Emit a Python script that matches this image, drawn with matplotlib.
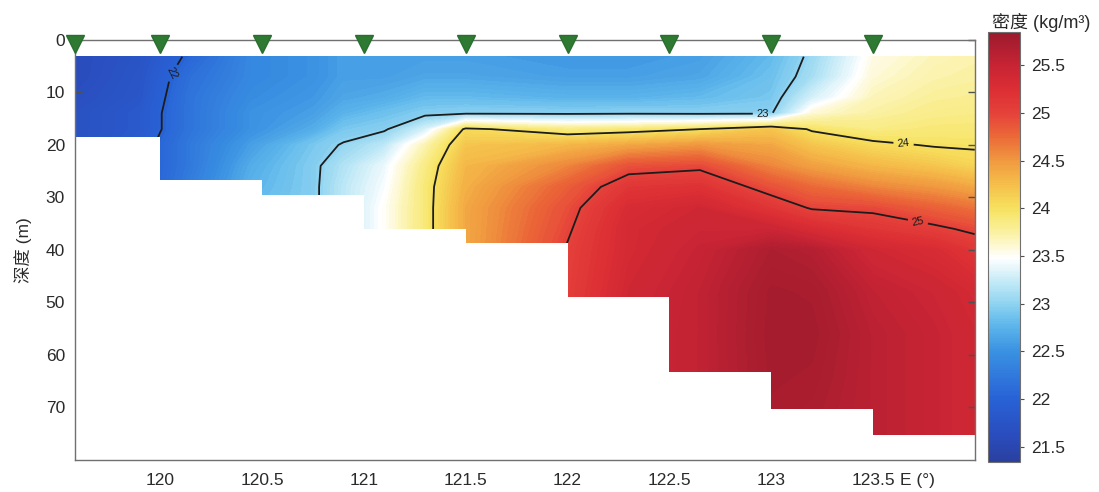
import numpy as np
import matplotlib
matplotlib.use("Agg")
import matplotlib.pyplot as plt
import matplotlib.transforms as mtransforms
from matplotlib.colors import LinearSegmentedColormap, Normalize
from matplotlib.cm import ScalarMappable

plt.rcParams['font.family'] = ['Liberation Sans', 'Noto Sans CJK SC', 'DejaVu Sans']

# --- section data -------------------------------------------------------
# CTD stations along the section (longitude, °E) and the water depth (m)
# reached below each station until the next one
stations = [119.58, 120.0, 120.5, 121.0, 121.5, 122.0, 122.5, 123.0, 123.5]
station_bottom = [18.5, 26.6, 29.6, 36.0, 38.6, 49.0, 63.2, 70.3, 75.3]
section_east_end = 124.0

# grid of the density field (sigma, kg/m^3)
grid_lon = [119.58, 119.9, 120.15, 120.45, 120.75, 120.9, 121.1, 121.3, 121.5,
            122.0, 122.3, 122.65, 123.0, 123.2, 123.5, 123.8, 124.0]
grid_depth = [3.2, 7, 11, 14, 17, 20, 24, 28, 32, 36, 40, 48, 56, 64, 70, 76]
density = [
    [21.60, 21.75, 22.05, 22.40, 22.50, 22.60, 22.60, 22.60, 22.60, 22.55, 22.55, 22.60, 22.80, 23.05, 23.55, 23.68, 23.72],
    [21.60, 21.78, 22.15, 22.40, 22.50, 22.60, 22.60, 22.65, 22.65, 22.60, 22.60, 22.65, 22.85, 23.10, 23.60, 23.72, 23.75],
    [21.65, 21.80, 22.20, 22.45, 22.55, 22.65, 22.70, 22.80, 22.80, 22.75, 22.75, 22.80, 22.90, 23.30, 23.68, 23.78, 23.80],
    [21.70, 21.85, 22.20, 22.50, 22.60, 22.75, 22.85, 22.95, 22.98, 22.97, 22.98, 22.97, 22.98, 23.60, 23.75, 23.83, 23.85],
    [21.70, 21.85, 22.20, 22.50, 22.70, 22.90, 22.97, 23.30, 24.05, 23.85, 23.90, 24.00, 24.20, 23.97, 23.85, 23.90, 23.90],
    [21.70, 21.90, 22.25, 22.60, 22.90, 23.02, 23.20, 23.70, 24.20, 24.30, 24.40, 24.50, 24.40, 24.20, 24.05, 23.98, 23.97],
    [21.70, 21.90, 22.25, 22.70, 22.95, 23.15, 23.40, 23.85, 24.30, 24.60, 24.90, 24.95, 24.60, 24.45, 24.30, 24.20, 24.10],
    [21.70, 21.90, 22.30, 22.75, 22.95, 23.20, 23.45, 23.90, 24.35, 24.82, 25.15, 25.20, 24.90, 24.75, 24.60, 24.50, 24.40],
    [21.70, 21.90, 22.30, 22.80, 22.95, 23.20, 23.50, 23.90, 24.40, 24.92, 25.30, 25.40, 25.15, 24.98, 24.95, 24.80, 24.70],
    [21.70, 21.90, 22.30, 22.80, 22.95, 23.20, 23.50, 23.90, 24.40, 24.97, 25.35, 25.45, 25.45, 25.30, 25.15, 25.05, 24.95],
    [21.70, 21.90, 22.30, 22.80, 22.95, 23.20, 23.50, 23.90, 24.40, 25.02, 25.35, 25.50, 25.70, 25.65, 25.40, 25.30, 25.15],
    [21.70, 21.90, 22.30, 22.80, 22.95, 23.20, 23.50, 23.90, 24.40, 25.05, 25.40, 25.55, 25.77, 25.75, 25.55, 25.45, 25.35],
    [21.70, 21.90, 22.30, 22.80, 22.95, 23.20, 23.50, 23.90, 24.40, 25.10, 25.45, 25.55, 25.78, 25.78, 25.60, 25.50, 25.40],
    [21.70, 21.90, 22.30, 22.80, 22.95, 23.20, 23.50, 23.90, 24.40, 25.10, 25.45, 25.55, 25.77, 25.75, 25.60, 25.50, 25.40],
    [21.70, 21.90, 22.30, 22.80, 22.95, 23.20, 23.50, 23.90, 24.40, 25.10, 25.45, 25.55, 25.75, 25.72, 25.60, 25.50, 25.40],
    [21.70, 21.90, 22.30, 22.80, 22.95, 23.20, 23.50, 23.90, 24.40, 25.10, 25.45, 25.55, 25.75, 25.72, 25.60, 25.50, 25.40],
]
contour_levels = [22, 23, 24, 25]
label_spots = [(120.07, 6.5), (122.96, 13.8), (123.65, 19.8), (123.73, 33.0)]

x_ticks = [120, 120.5, 121, 121.5, 122, 122.5, 123, 123.5]
x_tick_labels = ['120', '120.5', '121', '121.5', '122', '122.5', '123', '123.5']
y_ticks = [0, 10, 20, 30, 40, 50, 60, 70]
cb_ticks = [21.5, 22, 22.5, 23, 23.5, 24, 24.5, 25, 25.5]
cb_tick_labels = ['21.5', '22', '22.5', '23', '23.5', '24', '24.5', '25', '25.5']

vmin, vmax = 21.34, 25.85

# --- colour map: blue - white - yellow - red ------------------------------
cmap_nodes = [
    (21.34, '#2a409f'), (21.6, '#2a4cbc'), (22.0, '#2862d6'), (22.5, '#3a92e2'),
    (22.8, '#62baec'), (23.0, '#8fd4f0'), (23.25, '#c8ecf7'), (23.48, '#ffffff'),
    (23.75, '#fbf1a2'), (24.0, '#f6e25e'), (24.25, '#f5bf4a'), (24.5, '#f09a40'),
    (24.75, '#eb6a38'), (25.0, '#e5423a'), (25.25, '#dc2e34'), (25.5, '#c82434'),
    (25.85, '#9b1a2d'),
]
cmap = LinearSegmentedColormap.from_list(
    'dens', [((v - vmin) / (vmax - vmin), c) for v, c in cmap_nodes])
norm = Normalize(vmin=vmin, vmax=vmax)

# --- figure ---------------------------------------------------------------
fig = plt.figure(figsize=(10.99, 4.92), dpi=100)
ax = fig.add_axes([0.068, 0.065, 0.819, 0.854])
cax = fig.add_axes([0.899, 0.061, 0.029, 0.874])

LON, DEP = np.meshgrid(grid_lon, grid_depth)
Z = np.array(density)

ax.contourf(LON, DEP, Z, levels=np.linspace(vmin, vmax, 150), cmap=cmap,
            norm=norm, extend='both', zorder=1)
cs = ax.contour(LON, DEP, Z, levels=contour_levels, colors='#1c1c1c',
                linewidths=1.3, zorder=3)
ax.clabel(cs, fmt='%d', fontsize=8, inline=True, inline_spacing=4,
          manual=label_spots)

# sea floor below each station (white)
edges = stations + [section_east_end]
floor = station_bottom + [station_bottom[-1]]
ax.fill_between(edges, floor, 90, step='post', color='white', lw=0, zorder=4)

# station markers on the surface
shift = mtransforms.ScaledTranslation(0, -4 / 100, fig.dpi_scale_trans)
ax.plot(stations, [0] * len(stations), linestyle='none', marker='v',
        markersize=13, color='#2e7a32', markeredgecolor='#2a6e2e',
        clip_on=False, zorder=6, transform=ax.transData + shift)

ax.set_xlim(stations[0], section_east_end)
ax.set_ylim(80, 0)
ax.set_xticks(x_ticks)
ax.set_xticklabels(x_tick_labels)
ax.set_yticks(y_ticks)
ax.tick_params(axis='both', direction='in', length=5, width=1,
               color='#505050', labelsize=12.5, labelcolor='#2a2a2a')
ax.tick_params(axis='x', pad=9)
ax.tick_params(axis='y', pad=7, right=True)
for sp in ax.spines.values():
    sp.set_color('#707070')
    sp.set_linewidth(1.0)
    sp.set_zorder(5)

ax.set_ylabel('深度 (m)', fontsize=12.5, color='#2a2a2a', labelpad=10)
ax.annotate('E (°)', xy=(123.635, 0), xycoords=('data', 'axes fraction'),
            xytext=(0, -9), textcoords='offset points', ha='left', va='top',
            fontsize=12.5, color='#2a2a2a')

# colour bar
cb = fig.colorbar(ScalarMappable(norm=norm, cmap=cmap), cax=cax)
cb.set_ticks(cb_ticks)
cb.set_ticklabels(cb_tick_labels)
cb.ax.tick_params(labelsize=12.5, length=3, color='#505050',
                  labelcolor='#2a2a2a', pad=5)
cb.outline.set_edgecolor('#707070')
cb.outline.set_linewidth(0.8)
cax.set_title('密度 (kg/m³)', fontsize=13, color='#2a2a2a', pad=3, x=1.66)

fig.savefig('out.png', dpi=100, facecolor='white')
